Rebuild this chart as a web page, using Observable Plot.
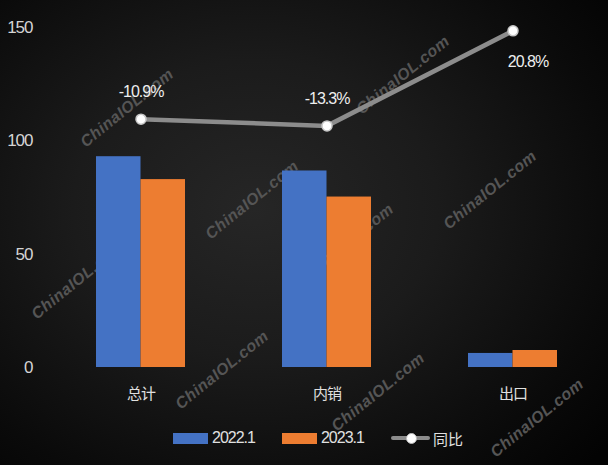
<!DOCTYPE html>
<html><head><meta charset="utf-8">
<script src="https://cdn.jsdelivr.net/npm/d3@7"></script>
<script src="https://cdn.jsdelivr.net/npm/@observablehq/plot@0.6"></script>
<style>
html,body{margin:0;padding:0;}
body{width:608px;height:465px;overflow:hidden;position:relative;
  background:radial-gradient(ellipse 75% 80% at 42% 45%, #262626 0%, #1b1b1b 40%, #0a0a0a 80%, #030303 100%);}
#wm{position:absolute;left:0;top:0;width:608px;height:465px;}
#wm div{position:absolute;font:italic bold 16px "Liberation Sans",Arial,sans-serif;color:#555555;
  transform:translate(-50%,-50%) rotate(-39deg);white-space:nowrap;letter-spacing:0.5px;}
#chart{position:absolute;left:0;top:0;}
#chart svg text{letter-spacing:-1px;}
#legend{position:absolute;left:173px;top:427px;height:22px;display:flex;align-items:center;color:#e0e0e0;}
.sw{width:35px;height:11px;margin-right:4px;}
.lt{font-family:"Liberation Sans",sans-serif;font-size:16px;letter-spacing:-1px;margin-right:27px;}
.lc{font-family:"Noto Sans CJK SC",sans-serif;font-size:15px;}
.ll{position:relative;width:39px;height:22px;margin-right:3px;}
.ll .bar{position:absolute;left:0;top:9px;width:39px;height:4px;background:#8c8c8c;border-radius:2px;}
.ll .dot{position:absolute;left:15px;top:6px;width:9px;height:9px;border-radius:50%;background:#fff;border:1px solid #bbb;}
</style>
</head><body>
<div id="wm"></div>
<div id="chart"></div>
<div id="legend"></div>
<script>
// ---- data ----
const categories = ["总计", "内销", "出口"];
const seriesNames = ["2022.1", "2023.1"];
const seriesColors = ["#4472C4", "#ED7D31"];
const values2022 = [93.0, 86.7, 6.2];
const values2023 = [82.9, 75.2, 7.5];
const yoyName = "同比";
const yoyPct = [-10.9, -13.3, 20.8];
const yTicks = [0, 50, 100, 150];
const yDomain = [0, 150];
const y2Domain = [-100, 22]; // hidden secondary axis for 同比 (%)

// ---- decoration: watermark ----
const wmText = "ChinaIOL.com";
const wmPos = [[127,108],[403,75],[252,200],[78,280],[222,370],[347,243],[490,190],[378,392],[537,418]];
const wm = document.getElementById("wm");
wmPos.forEach(([x,y]) => { const d = document.createElement("div"); d.textContent = wmText; d.style.left = x+"px"; d.style.top = y+"px"; wm.appendChild(d); });

// ---- tables ----
const bars = categories.flatMap((c, i) => [
  {cat: c, s: seriesNames[0], v: values2022[i]},
  {cat: c, s: seriesNames[1], v: values2023[i]}
]);
const y2 = d3.scaleLinear().domain(y2Domain).range(yDomain);
const yoy = categories.map((c, i) => ({cat: c, p: yoyPct[i], yv: y2(yoyPct[i])}));
const pctFmt = d => d.p.toFixed(1) + "%";

const width = 608, height = 415, mL = 47, mR = 2;
const step = (width - mL - mR) / categories.length;
const bw = 89; // band width for the two bars
const pInner = 1 - bw / step;
const half = bw / 2;
const numFont = "'Liberation Sans',sans-serif";

const chart = Plot.plot({
  width, height,
  marginLeft: mL, marginRight: mR, marginTop: 27, marginBottom: 48,
  style: {background: "transparent", color: "#d9d9d9", overflow: "visible"},
  x: {domain: categories, paddingInner: pInner, paddingOuter: pInner / 2, label: null},
  y: {domain: yDomain, label: null},
  marks: [
    Plot.axisY({ticks: yTicks, tickSize: 0, tickPadding: 15, fontSize: 17, fill: "#d4d4d4",
      fontFamily: numFont, label: null}),
    Plot.axisX({tickSize: 0, tickPadding: 21, fontSize: 15, fill: "#e0e0e0",
      fontFamily: "'Noto Sans CJK SC',sans-serif", label: null}),
    Plot.barY(bars.filter(d => d.s === seriesNames[0]), {x: "cat", y: "v", fill: seriesColors[0], insetRight: half}),
    Plot.barY(bars.filter(d => d.s === seriesNames[1]), {x: "cat", y: "v", fill: seriesColors[1], insetLeft: half}),
    Plot.line(yoy, {x: "cat", y: "yv", stroke: "#8c8c8c", strokeWidth: 4.5, strokeLinecap: "round"}),
    Plot.dot(yoy, {x: "cat", y: "yv", r: 5, fill: "#ffffff", stroke: "#c8c8c8", strokeWidth: 1.5}),
    Plot.text(yoy.slice(0, 2), {x: "cat", y: "yv", text: pctFmt, dy: -27, fill: "#eeeeee", fontSize: 16,
      fontFamily: numFont}),
    Plot.text(yoy.slice(2), {x: "cat", y: "yv", text: pctFmt, dx: 15, dy: 31, fill: "#eeeeee", fontSize: 16,
      fontFamily: numFont})
  ]
});
document.getElementById("chart").appendChild(chart);

// ---- legend ----
const lg = document.getElementById("legend");
seriesNames.forEach((n, i) => {
  const sw = document.createElement("div"); sw.className = "sw"; sw.style.background = seriesColors[i]; lg.appendChild(sw);
  const t = document.createElement("span"); t.className = "lt"; t.textContent = n; lg.appendChild(t);
});
const ll = document.createElement("div"); ll.className = "ll"; ll.innerHTML = '<div class="bar"></div><div class="dot"></div>'; lg.appendChild(ll);
const lt = document.createElement("span"); lt.className = "lc"; lt.textContent = yoyName; lg.appendChild(lt);
</script>
</body></html>
